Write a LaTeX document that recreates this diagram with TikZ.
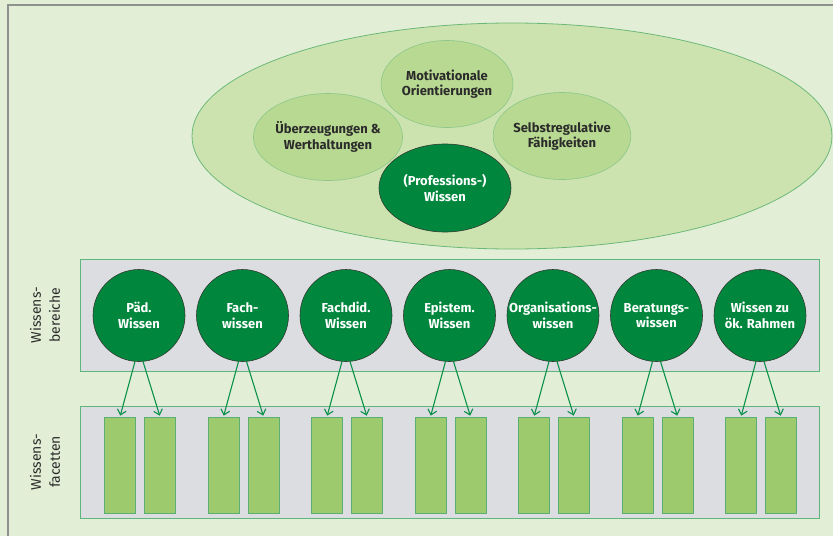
\documentclass[tikz,border=0pt]{standalone}
\usepackage{fontspec}
\setmainfont{Fira Sans}
\usetikzlibrary{arrows.meta,shapes.geometric}

\definecolor{pagebg}{HTML}{E2EFD6}
\definecolor{framegray}{HTML}{8F918F}
\definecolor{outerfill}{HTML}{CCE3B0}
\definecolor{outerline}{HTML}{6DB878}
\definecolor{softfill}{HTML}{B8D991}
\definecolor{softline}{HTML}{8CC78A}
\definecolor{darkgreen}{HTML}{00873D}
\definecolor{darkline}{HTML}{2F3B30}
\definecolor{bandfill}{HTML}{DCDDE0}
\definecolor{bandline}{HTML}{5DB77D}
\definecolor{facetfill}{HTML}{9DCA6C}
\definecolor{facetline}{HTML}{5BAF72}
\definecolor{arrowgreen}{HTML}{0A9148}
\definecolor{labeltext}{HTML}{2B2B2B}

\tikzset{
  labelfont/.style={font=\fontsize{13}{15.5}\selectfont\bfseries, align=center},
  softcircle/.style={ellipse, minimum width=132pt, minimum height=87pt, inner sep=0pt,
    fill=softfill, draw=softline, line width=0.6pt, text=labeltext, labelfont},
  coreellipse/.style={ellipse, minimum width=132pt, minimum height=88pt, inner sep=0pt,
    fill=darkgreen, draw=darkline, line width=0.6pt, text=white, labelfont},
  area/.style={circle, minimum size=92pt, inner sep=0pt,
    fill=darkgreen, draw=darkline, line width=0.6pt, text=white, labelfont},
  band/.style={fill=bandfill, draw=bandline, line width=1pt},
  facet/.style={rectangle, minimum width=31pt, minimum height=96pt, inner sep=0pt,
    fill=facetfill, draw=facetline, line width=0.8pt},
  link/.style={draw=arrowgreen, line width=1.1pt,
    -{Straight Barb[length=5pt,width=9pt,line width=1.1pt]}, shorten >=1pt},
  sidelabel/.style={rotate=90, align=center, text=labeltext,
    font=\fontsize{14}{19}\selectfont}
}

\begin{document}
\begin{tikzpicture}[x=1pt,y=-1pt]
  \useasboundingbox (0,0) rectangle (833,536);
  \fill[pagebg] (0,0) rectangle (833,536);
  \draw[framegray, line width=1.6pt] (8,536) -- (8,5) -- (833,5);

  % upper cluster of dispositions
  \node[ellipse, minimum width=640pt, minimum height=226pt, inner sep=0pt,
        fill=outerfill, draw=outerline, line width=0.8pt] (outer) at (512,136) {};
  \node[softcircle] (motiv) at (447,84) {Motivationale\\Orientierungen};
  \node[softcircle] (ueber) at (328,137) {Überzeugungen \&\\Werthaltungen};
  \node[softcircle] (selbst) at (562,136) {Selbstregulative\\Fähigkeiten};
  \node[coreellipse] (prof) at (445,188) {(Professions-)\\Wissen};

  % knowledge areas
  \draw[band] (80,259) rectangle (819,371);
  \node[sidelabel] (lblA) at (45,315) {Wissens-\\bereiche};
  \node[area] (a1) at (139,315.5) {Päd.\\Wissen};
  \node[area] (a2) at (242.5,315.5) {Fach-\\wissen};
  \node[area] (a3) at (346,315.5) {Fachdid.\\Wissen};
  \node[area] (a4) at (449.5,315.5) {Epistem.\\Wissen};
  \node[area] (a5) at (553,315.5) {Organisations-\\wissen};
  \node[area] (a6) at (656.5,315.5) {Beratungs-\\wissen};
  \node[area] (a7) at (760,315.5) {Wissen zu\\ök. Rahmen};

  % knowledge facets
  \draw[band] (80,406) rectangle (819,518);
  \node[sidelabel] (lblB) at (45,462) {Wissens-\\facetten};
  \foreach \i/\cx in {1/139,2/242.5,3/346,4/449.5,5/553,6/656.5,7/760}{
    \node[facet] (f\i a) at (\cx-19,465) {};
    \node[facet] (f\i b) at (\cx+21,465) {};
    \draw[link] (a\i.265) -- (f\i a.north);
    \draw[link] (a\i.275) -- (f\i b.north);
  }
\end{tikzpicture}
\end{document}
